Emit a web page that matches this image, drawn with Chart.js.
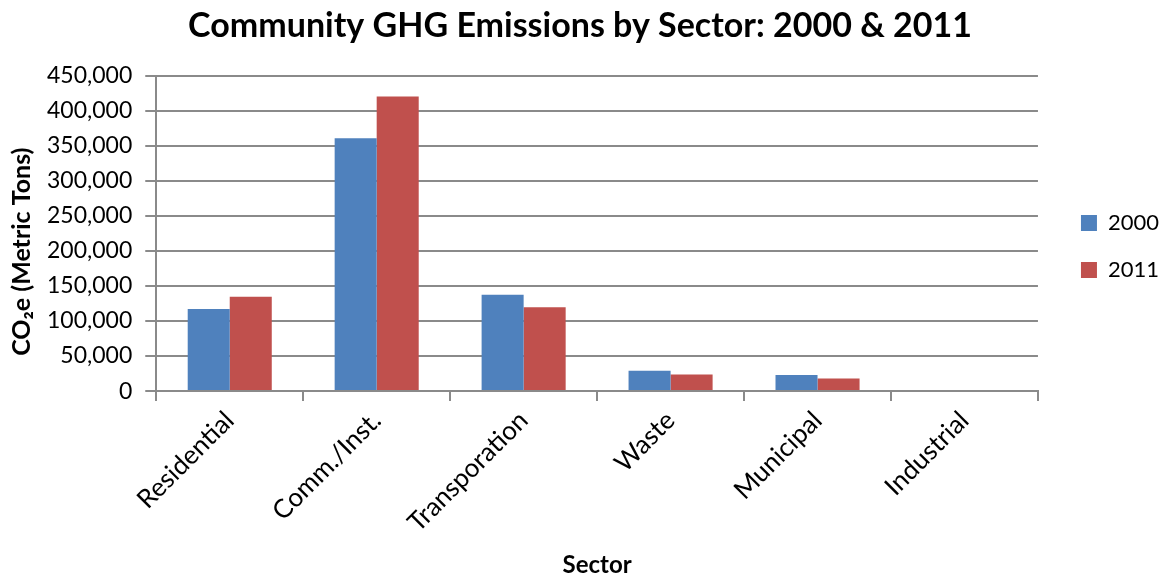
<!DOCTYPE html>
<html>
<head>
<meta charset="utf-8">
<script src="https://cdn.jsdelivr.net/npm/chart.js@4"></script>
<style>
  html, body { margin: 0; padding: 0; background: #ffffff; }
  #wrap { width: 1164px; height: 580px; }
</style>
</head>
<body>
<div id="wrap"><canvas id="c" width="1164" height="580"></canvas></div>
<script>
// Sectors and yearly emissions (metric tons CO2e)
const sectors = ['Residential', 'Comm./Inst.', 'Transporation', 'Waste', 'Municipal', 'Industrial'];
const years = ['2000', '2011'];
const emissions2000 = [117000, 361000, 137600, 29000, 23000, 0];
const emissions2011 = [134700, 420400, 119500, 23800, 18100, 0];
const yTicks = [0, 50000, 100000, 150000, 200000, 250000, 300000, 350000, 400000, 450000];

const FONT = 'Lato, "Open Sans", sans-serif';
const GRID = '#8a8a8a';

// Moves the legend block after layout, keeping the plot area where it is
const legendOffset = {
  id: 'legendOffset',
  afterLayout(chart, args, opts) {
    const lg = chart.legend;
    if (!lg) return;
    lg.left += opts.dx; lg.right += opts.dx;
    lg.top += opts.dy; lg.bottom += opts.dy;
  }
};

new Chart(document.getElementById('c'), {
  type: 'bar',
  data: {
    labels: sectors,
    datasets: [
      { label: years[0], data: emissions2000, backgroundColor: '#4F81BD' },
      { label: years[1], data: emissions2011, backgroundColor: '#C0504D' }
    ]
  },
  plugins: [legendOffset],
  options: {
    responsive: false,
    animation: false,
    devicePixelRatio: 1,
    layout: { padding: { left: 9, right: 13, top: 3, bottom: 0 } },
    datasets: { bar: { categoryPercentage: 0.572, barPercentage: 1.0 } },
    plugins: {
      legendOffset: { dx: 18, dy: -45 },
      title: {
        display: true,
        text: 'Community GHG Emissions by Sector: 2000 & 2011',
        color: '#000',
        font: { family: FONT, size: 34, weight: 'bold' },
        padding: { top: 3, bottom: 29 }
      },
      legend: {
        position: 'right',
        labels: {
          color: '#000',
          font: { family: FONT, size: 22 },
          boxWidth: 16, boxHeight: 16,
          padding: 25
        }
      },
      tooltip: { enabled: false }
    },
    scales: {
      x: {
        grid: { display: true, drawOnChartArea: false, drawTicks: true, tickLength: 10, color: GRID, lineWidth: 2, offset: true },
        border: { color: GRID, width: 2 },
        ticks: { color: '#000', font: { family: FONT, size: 26 }, minRotation: 45, maxRotation: 45, padding: 4 },
        title: { display: true, text: 'Sector', color: '#000', font: { family: FONT, size: 24, weight: 'bold' }, padding: { top: 9, bottom: 0 } }
      },
      y: {
        min: 0, max: 450000,
        afterBuildTicks: (axis) => { axis.ticks = yTicks.map(v => ({ value: v })); },
        grid: { color: GRID, lineWidth: 2, tickLength: 11 },
        border: { color: GRID, width: 2 },
        ticks: { color: '#000', font: { family: FONT, size: 23 }, padding: 13,
                 callback: (v) => v.toLocaleString('en-US') },
        title: { display: true, text: 'CO₂e (Metric Tons)      ', color: '#000', font: { family: FONT, size: 25, weight: 'bold', lineHeight: 1 }, padding: { top: 0, bottom: 0 } }
      }
    }
  }
});
</script>
</body>
</html>
